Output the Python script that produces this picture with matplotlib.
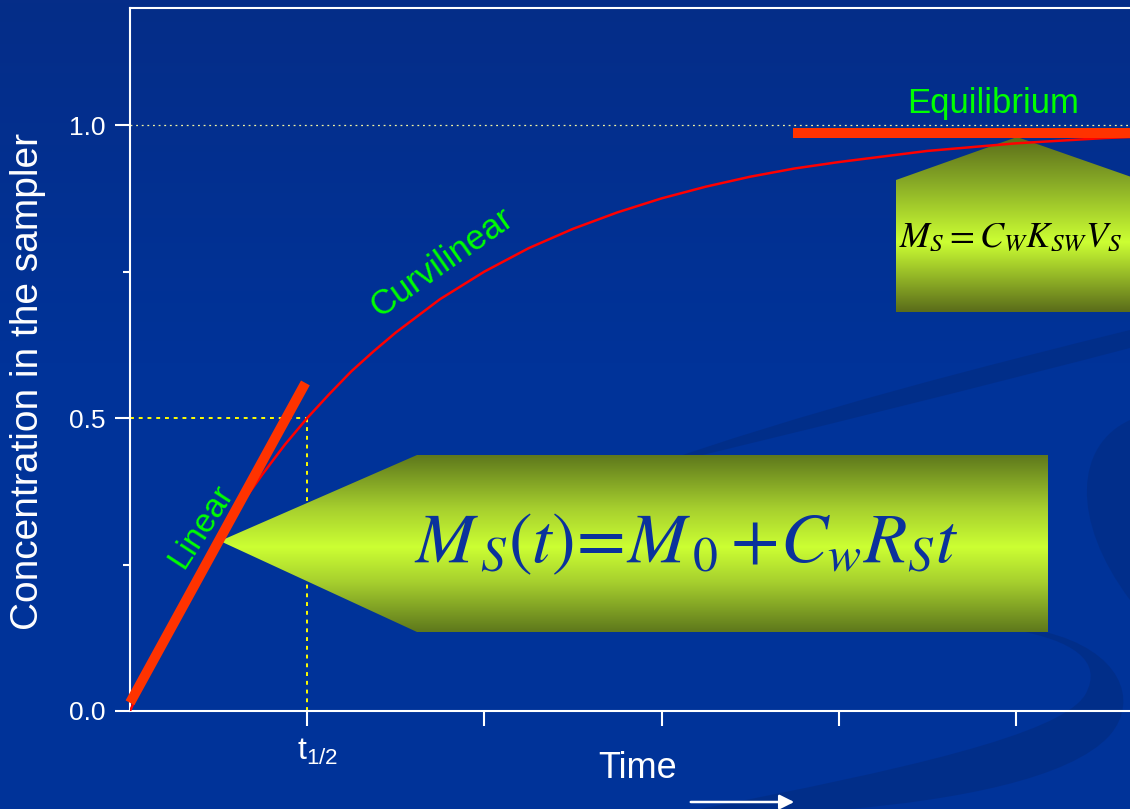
import numpy as np
import matplotlib
matplotlib.use("Agg")
import matplotlib.pyplot as plt
from matplotlib.transforms import Affine2D, ScaledTranslation
from matplotlib.patches import Polygon, PathPatch
from matplotlib.path import Path
from matplotlib.colors import LinearSegmentedColormap

# ---------------- data ----------------
curve_t = [0.0, 0.125, 0.25, 0.375, 0.5, 0.625, 0.75, 0.875, 1.0, 1.125, 1.25, 1.375, 1.5,
           1.75, 2.0, 2.25, 2.5, 2.75, 3.0, 3.25, 3.5, 3.75, 4.0, 4.5, 5.0, 5.5, 6.0]
curve_y = [0.0, 0.083, 0.159, 0.229, 0.293, 0.352, 0.405, 0.455, 0.50, 0.541, 0.580, 0.614,
           0.646, 0.703, 0.750, 0.790, 0.823, 0.851, 0.875, 0.895, 0.912, 0.926, 0.937,
           0.956, 0.969, 0.978, 0.984]
linear_t = [0.0, 0.99]
linear_y = [0.014, 0.56]
equil_t = [3.74, 6.0]
equil_y = [0.986, 0.986]
half_t = 1.0
half_y = 0.5
eq_level = 1.0
yticks_major = [0.0, 0.5, 1.0]
ytick_labels = ["0.0", "0.5", "1.0"]
yticks_minor = [0.25, 0.75]
xticks = [1, 2, 3, 4, 5]
xtick_labels = [r"$\mathrm{t}_{1/2}$", "", "", "", ""]

# ---------------- style ----------------
W, H = 1130, 809
BG = "#003399"
plt.rcParams["font.family"] = ["Liberation Sans", "DejaVu Sans"]
plt.rcParams["mathtext.fontset"] = "custom"
plt.rcParams["mathtext.rm"] = "Liberation Sans"
plt.rcParams["mathtext.it"] = "Liberation Sans:italic"

fig = plt.figure(figsize=(W / 100, H / 100), dpi=100, facecolor=BG)
pix = Affine2D().scale(1 / W, -1 / H).translate(0, 1) + fig.transFigure

# background gradient + swirls
bg = fig.add_axes([0, 0, 1, 1], zorder=-5)
bg.set_axis_off()
bgcmap = LinearSegmentedColormap.from_list("bg", [(0, "#052d88"), (0.45, BG), (1, BG)])
bg.imshow(np.linspace(0, 1, 256).reshape(-1, 1), cmap=bgcmap, aspect="auto",
          extent=[0, W, H, 0], origin="upper")
bg.set_xlim(0, W)
bg.set_ylim(H, 0)
sw = "#022d86"
def band(verts, codes, alpha=0.8):
    p = PathPatch(Path(verts, codes), facecolor=sw, edgecolor="none", alpha=alpha)
    bg.add_patch(p)
C4, L, M, Z = Path.CURVE4, Path.LINETO, Path.MOVETO, Path.CLOSEPOLY
band([(640, 470), (800, 412), (1000, 362), (1130, 330), (1130, 348), (1000, 382), (800, 432), (640, 470), (640, 470)],
     [M, C4, C4, C4, L, C4, C4, C4, Z])
band([(700, 809), (900, 770), (1060, 735), (1085, 695), (1105, 660), (1070, 640), (1015, 630),
      (1045, 632), (1120, 650), (1140, 700), (1110, 735), (1070, 780), (950, 800), (850, 809), (700, 809)],
     [M, C4, C4, C4, C4, C4, C4, L, C4, C4, C4, C4, C4, C4, Z])
band([(1130, 420), (1075, 445), (1070, 520), (1130, 600), (1130, 420)], [M, C4, C4, C4, Z], alpha=0.7)

# ---------------- main axes ----------------
ax = fig.add_axes([130 / W, (H - 711) / H, 1063 / W, 703 / H], zorder=1)
ax.patch.set_alpha(0)

ax.plot(curve_t, curve_y, color="#ff0000", lw=1.8, zorder=3, solid_joinstyle="round")
ax.plot(linear_t, linear_y, color="#ff3300", lw=7.2, solid_capstyle="butt", zorder=4, clip_on=False)
ax.plot(equil_t, equil_y, color="#ff3300", lw=7.2, solid_capstyle="butt", zorder=4)
ax.plot([0, half_t], [half_y, half_y], color="#ffff00", lw=1.4, ls=(0, (2, 2.5)), zorder=1)
ax.plot([half_t, half_t], [0, half_y], color="#ffff00", lw=1.4, ls=(0, (2, 2.5)), zorder=1)
ax.plot([0, 6], [eq_level, eq_level], color="#f2f2a0", lw=0.9, ls=(0, (1.5, 3)), zorder=1)

# gradient callouts
def grad_shape(verts, y0, y1, stops, z):
    poly = Polygon(verts, closed=True, transform=pix, facecolor="none", edgecolor="none")
    ax.add_patch(poly)
    cmap = LinearSegmentedColormap.from_list("g", stops)
    xs = [v[0] for v in verts]
    im = ax.imshow(np.linspace(0, 1, 256).reshape(-1, 1), cmap=cmap, aspect="auto",
                   extent=[min(xs), max(xs), y1, y0], origin="upper", zorder=z,
                   interpolation="bilinear")
    im.set_transform(pix)
    im.set_clip_path(poly)

grad_shape([(220, 541), (417, 455), (1048, 455), (1048, 632), (417, 632)], 455, 632,
           [(0, "#5e781c"), (0.3, "#a6cf2e"), (0.52, "#ccff33"), (0.72, "#a6cf2e"), (1, "#5e781c")], 2)
grad_shape([(1017, 137), (1140, 180), (1140, 312), (896, 312), (896, 180)], 137, 312,
           [(0, "#5a6c1a"), (0.25, "#86a826"), (0.6, "#ccff33"), (1, "#5a6c1a")], 2)

ax.text(414, 562, r"$M_{\,S}\left(t\right)\!=\!M_{\,0}+\!C_{w}R_{S}t$", transform=pix, fontsize=51,
        color="#0a329c", ha="left", va="baseline", math_fontfamily="stix", zorder=5)
ax.text(899, 247, r"$M_{S}= C_W K_{SW} V_S$", transform=pix, fontsize=26,
        color="black", ha="left", va="baseline", math_fontfamily="stix", zorder=5)

# green labels
green = "#00ff00"
ax.text(993, 113, "Equilibrium", transform=pix, fontsize=25, color=green, ha="center", va="baseline", zorder=5)
ax.text(442, 263, "Curvilinear", transform=pix, fontsize=25, color=green, ha="center", va="center",
        rotation=35, rotation_mode="anchor", zorder=5)
ax.text(201, 527, "Linear", transform=pix, fontsize=24, color=green, ha="center", va="center",
        rotation=57, rotation_mode="anchor", zorder=5)

# axes styling
ax.set_xlim(0, 6)
ax.set_ylim(0, 1.2)
for s in ["left", "top", "bottom"]:
    ax.spines[s].set_color("white")
    ax.spines[s].set_linewidth(1.5)
ax.spines["right"].set_visible(False)
ax.set_yticks(yticks_major)
ax.set_yticklabels(ytick_labels)
ax.set_yticks(yticks_minor, minor=True)
ax.set_xticks(xticks)
ax.set_xticklabels(xtick_labels)
ax.tick_params(axis="y", which="major", length=10.8, width=1.5, color="white",
               labelcolor="white", labelsize=19, pad=7)
ax.tick_params(axis="y", which="minor", length=5, width=1.5, color="white")
ax.tick_params(axis="x", which="major", length=10.8, width=1.5, color="white",
               labelcolor="white", labelsize=23, pad=8)
shift = ScaledTranslation(10 / 100, 0, fig.dpi_scale_trans)
for lab in ax.get_xticklabels():
    lab.set_transform(lab.get_transform() + shift)

fig.text(28, 381, "Concentration in the sampler", transform=pix, fontsize=28, color="white",
         rotation=90, ha="center", va="center")
fig.text(638, 778, "Time", transform=pix, fontsize=26, color="white", ha="center", va="baseline")
ax.annotate("", xy=(797, 802), xytext=(688, 802), xycoords=pix, textcoords=pix,
            arrowprops=dict(arrowstyle="-|>", color="white", lw=1.8, mutation_scale=22),
            annotation_clip=False)

fig.savefig("out.png", dpi=100, facecolor=BG)
